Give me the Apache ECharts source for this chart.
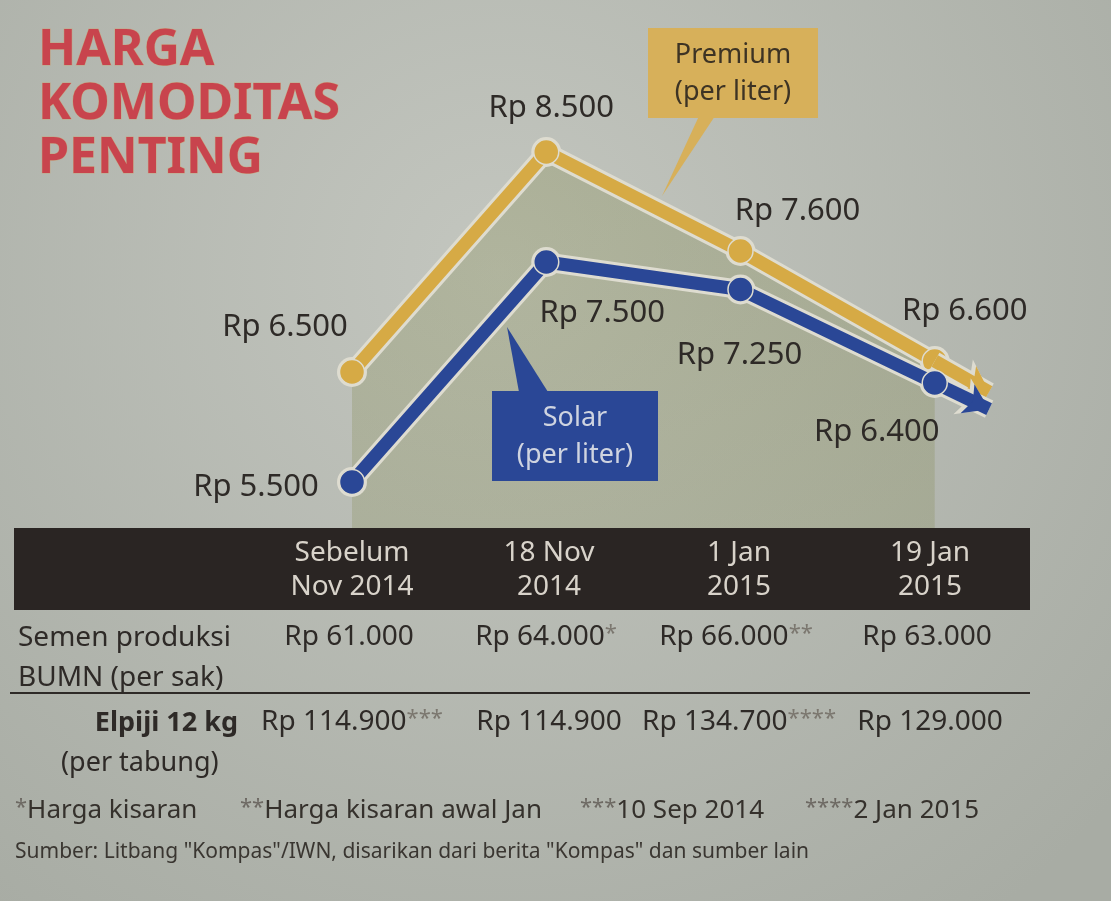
<!DOCTYPE html>
<html><head><meta charset="utf-8">
<script src="https://cdn.jsdelivr.net/npm/echarts@6/dist/echarts.min.js"></script>
<style>html,body{margin:0;padding:0;background:#b7bbb4}#c{width:1111px;height:901px}</style>
</head><body><div id="c"></div><script>
// ---- data ----
const categories = ['Sebelum\nNov 2014', '18 Nov\n2014', '1 Jan\n2015', '19 Jan\n2015'];
const premium = [6500, 8500, 7600, 6600];
const solar = [5500, 7500, 7250, 6400];
const seriesNames = ['Premium\n(per liter)', 'Solar\n(per liter)'];
const titleLines = ['HARGA', 'KOMODITAS', 'PENTING'];
const semenLabel = ['Semen produksi', 'BUMN (per sak)'];
const semen = ['Rp 61.000', 'Rp 64.000', 'Rp 66.000', 'Rp 63.000'];
const semenMarks = ['', '*', '**', ''];
const elpijiLabel = ['Elpiji 12 kg', '(per tabung)'];
const elpiji = ['Rp 114.900', 'Rp 114.900', 'Rp 134.700', 'Rp 129.000'];
const elpijiMarks = ['***', '', '****', ''];
const footnotes = ['*Harga kisaran', '**Harga kisaran awal Jan', '***10 Sep 2014', '****2 Jan 2015'];
const source = 'Sumber: Litbang "Kompas"/IWN, disarikan dari berita "Kompas" dan sumber lain';

// ---- layout / style ----
const FONT = '"Noto Sans", sans-serif';
const YELLOW = '#d6aa45', BLUE = '#2a4796', EDGE = '#dedcd0', INK = '#2e2a27';
const premiumLabelOffsets = [[-67, -45], [5, -44], [57, -40], [30, -50]];
const solarLabelOffsets = [[-96, 5], [56, 51], [-1, 66], [-58, 49]];
const colX = [352, 549, 739, 930];
const ARROW = 0.28;

const fmt = v => 'Rp ' + String(v).replace(/\B(?=(\d{3})+(?!\d))/g, '.');
const pts = arr => arr.map((v, i) => [i, v]);
const arrowEnd = arr => {
  const n = arr.length - 1;
  return [[{ coord: [n, arr[n]] }, { coord: [n + ARROW, arr[n] + (arr[n] - arr[n - 1]) * ARROW] }]];
};

function outline(arr, z, area) {
  const s = {
    type: 'line', data: pts(arr), z: z, silent: true,
    symbol: 'circle', symbolSize: 30,
    itemStyle: { color: EDGE },
    lineStyle: { color: EDGE, width: 19 },
    markLine: { silent: true, symbol: ['none', 'arrow'], symbolSize: [30, 30],
      label: { show: false }, lineStyle: { color: EDGE, width: 19, type: 'solid' },
      data: arrowEnd(arr) },
    animation: false
  };
  if (area) s.areaStyle = { origin: 'start', color: {
    type: 'linear', x: 0, y: 0, x2: 0, y2: 1,
    colorStops: [{ offset: 0, color: 'rgba(110,118,40,0.34)' }, { offset: 1, color: 'rgba(110,118,40,0.26)' }] } };
  return s;
}
function main(name, arr, color, offsets, z) {
  return {
    name: name, type: 'line', z: z, animation: false,
    data: arr.map((v, i) => ({ value: [i, v],
      label: { offset: offsets[i] } })),
    symbol: 'circle', symbolSize: 25,
    itemStyle: { color: color, borderColor: EDGE, borderWidth: 1.5 },
    lineStyle: { color: color, width: 13 },
    label: { show: true, position: 'inside', align: 'center', verticalAlign: 'middle',
      formatter: p => fmt(p.value[1]), fontFamily: FONT, fontSize: 31, color: INK },
    markLine: { silent: true, symbol: ['none', 'arrow'], symbolSize: [24, 24],
      label: { show: false }, lineStyle: { color: color, width: 13, type: 'solid' },
      data: arrowEnd(arr) }
  };
}

const g = [];
titleLines.forEach((t, i) => g.push({ type: 'text', x: 38, y: 51 + i * 54, z: 5,
  style: { text: t, fill: '#c8444d', font: 'bold 50px ' + FONT, textVerticalAlign: 'middle',
    stroke: 'rgba(214,150,80,0.45)', lineWidth: 1 } }));
// callout boxes
const pNames = seriesNames[0].split('\n'), sNames = seriesNames[1].split('\n');
g.push({ type: 'polygon', z: 1, shape: { points: [[699, 116], [715, 116], [662, 196]] }, style: { fill: '#d7b05a' } });
g.push({ type: 'rect', z: 5, shape: { x: 648, y: 28, width: 170, height: 90 }, style: { fill: '#d7b05a' } });
pNames.forEach((t, i) => g.push({ type: 'text', z: 6, x: 733, y: 55 + i * 37,
  style: { text: t, fill: '#3d3324', font: '27px ' + FONT, textAlign: 'center', textVerticalAlign: 'middle' } }));
g.push({ type: 'polygon', z: 3, shape: { points: [[507, 327], [519, 392], [548, 392]] }, style: { fill: BLUE } });
g.push({ type: 'rect', z: 5, shape: { x: 492, y: 391, width: 166, height: 90 }, style: { fill: BLUE } });
sNames.forEach((t, i) => g.push({ type: 'text', z: 6, x: 575, y: 418 + i * 37,
  style: { text: t, fill: '#cfd4e0', font: '27px ' + FONT, textAlign: 'center', textVerticalAlign: 'middle' } }));
// table header
g.push({ type: 'rect', z: 5, shape: { x: 14, y: 528, width: 1016, height: 82 }, style: { fill: '#2a2523' } });
categories.forEach((c, i) => c.split('\n').forEach((t, j) => g.push({ type: 'text', z: 6,
  x: colX[i], y: 553 + j * 34,
  style: { text: t, fill: '#d8d3ca', font: '28px ' + FONT, textAlign: 'center', textVerticalAlign: 'middle' } })));
// row semen
semenLabel.forEach((t, j) => g.push({ type: 'text', z: 6, x: 18, y: 638 + j * 40,
  style: { text: t, fill: INK, font: '28px ' + FONT, textVerticalAlign: 'middle' } }));
const rich = { v: { fontFamily: FONT, fontSize: 28, fill: INK }, s: { fontFamily: FONT, fontSize: 22, fill: '#7b776f', verticalAlign: 'top', padding: [0, 0, 6, 0] } };
semen.forEach((t, i) => g.push({ type: 'text', z: 6, x: colX[i] - 3, y: 637,
  style: { text: '{v|' + t + '}' + (semenMarks[i] ? '{s|' + semenMarks[i] + '}' : ''), rich: rich,
    textAlign: 'center', textVerticalAlign: 'middle' } }));
g.push({ type: 'line', z: 6, shape: { x1: 10, y1: 693, x2: 1030, y2: 693 }, style: { stroke: INK, lineWidth: 2 } });
// row elpiji
g.push({ type: 'text', z: 6, x: 238, y: 723, style: { text: elpijiLabel[0], fill: INK, font: 'bold 27px ' + FONT, textAlign: 'right', textVerticalAlign: 'middle' } });
g.push({ type: 'text', z: 6, x: 61, y: 763, style: { text: elpijiLabel[1], fill: INK, font: '27px ' + FONT, textVerticalAlign: 'middle' } });
elpiji.forEach((t, i) => g.push({ type: 'text', z: 6, x: colX[i], y: 722,
  style: { text: '{v|' + t + '}' + (elpijiMarks[i] ? '{s|' + elpijiMarks[i] + '}' : ''), rich: rich,
    textAlign: 'center', textVerticalAlign: 'middle' } }));
// footnotes
const fx = [15, 240, 580, 805];
footnotes.forEach((t, i) => { const m = t.match(/^(\*+)(.*)$/);
  g.push({ type: 'text', z: 6, x: fx[i], y: 811, style: {
    text: '{s|' + m[1] + '}{v|' + m[2] + '}', textVerticalAlign: 'middle',
    rich: { v: { fontFamily: FONT, fontSize: 26, fill: '#35312c' }, s: { fontFamily: FONT, fontSize: 22, fill: '#6d6963', verticalAlign: 'top', padding: [0, 0, 6, 0] } } } }); });
g.push({ type: 'text', z: 6, x: 15, y: 852, style: { text: source, fill: '#3a3631', font: '21px ' + FONT, textVerticalAlign: 'middle' } });

const chart = echarts.init(document.getElementById('c'), null, { renderer: 'canvas' });
chart.setOption({
  animation: false,
  backgroundColor: { type: 'radial', x: 0.45, y: 0.3, r: 0.9,
    colorStops: [{ offset: 0, color: '#c3c6bf' }, { offset: 1, color: '#a8aca4' }] },
  grid: { left: 352, top: 97, width: 641, height: 440 },
  xAxis: { type: 'value', min: 0, max: 3.3, show: false },
  yAxis: { type: 'value', min: 5000, max: 9000, show: false },
  series: [
    outline(premium, 2, true),
    main('Premium', premium, YELLOW, premiumLabelOffsets, 3),
    outline(solar, 4, false),
    main('Solar', solar, BLUE, solarLabelOffsets, 5)
  ],
  graphic: g
});
</script></body></html>
